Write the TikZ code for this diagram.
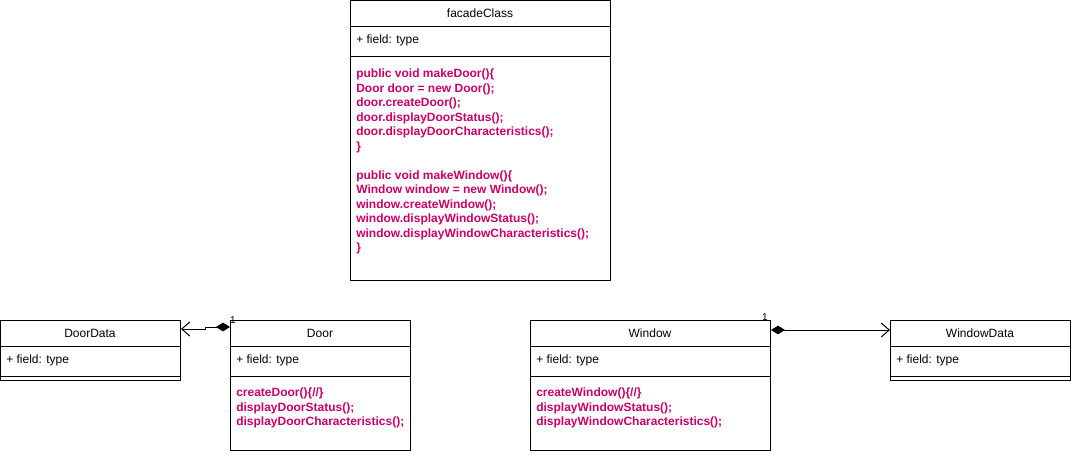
\documentclass[tikz,border=0pt]{standalone}
\usepackage{fontspec}
\setmainfont{Liberation Sans}
\usetikzlibrary{arrows.meta,calc}
\definecolor{codepink}{HTML}{CC0066}
\begin{document}
\begin{tikzpicture}[x=0.75pt,y=-0.75pt,
  font=\fontsize{9}{10.875}\selectfont,
  box/.style 2 args={draw, line width=0.75pt, rectangle, anchor=north west,
    inner sep=0pt, minimum width=#1*0.75pt, minimum height=#2*0.75pt},
  title/.style={inner sep=0pt, anchor=center},
  attr/.style={inner sep=0pt, anchor=west},
  code/.style={inner sep=0pt, anchor=north west, align=left, text=codepink,
    font=\fontsize{9}{10.875}\selectfont\bfseries},
  sep/.style={line width=0.75pt},
  mult/.style={inner sep=0pt, anchor=center, font=\fontsize{7.5}{9}\selectfont},
  link/.style={line width=0.75pt,
    {Diamond[length=10.5pt,width=6.5pt]}-{Straight Barb[length=6pt,width=10.5pt,line width=0.75pt]}}
]
\useasboundingbox (0,0) rectangle (1071,454);

% facade class
\node[box={260}{280}] (facade) at (350,0) {};
\draw[sep] (350,26) -- (610,26);
\draw[sep] (350,56) -- (610,56);
\node[title] (facadeT) at (480,13) {facadeClass};
\node[attr] (facadeA) at (356,40) {+ field: type};
\node[code] (facadeM) at (356,69) {public void makeDoor()\{\\
Door door = new Door();\\
door.createDoor();\\
door.displayDoorStatus();\\
door.displayDoorCharacteristics();\\
\}\\[10.875pt]
public void makeWindow()\{\\
Window window = new Window();\\
window.createWindow();\\
window.displayWindowStatus();\\
window.displayWindowCharacteristics();\\
\}};

% DoorData
\node[box={180}{60}] (doordata) at (0,320) {};
\draw[sep] (0,346) -- (180,346);
\draw[sep] (0,376) -- (180,376);
\node[title] (doordataT) at (90,333) {DoorData};
\node[attr] (doordataA) at (6,360) {+ field: type};

% Door
\node[box={180}{130}] (door) at (230,320) {};
\draw[sep] (230,346) -- (410,346);
\draw[sep] (230,376) -- (410,376);
\node[title] (doorT) at (320,333) {Door};
\node[attr] (doorA) at (236,360) {+ field: type};
\node[code] (doorM) at (236,388) {createDoor()\{//\}\\
displayDoorStatus();\\
displayDoorCharacteristics();};

% Window
\node[box={240}{130}] (window) at (530,320) {};
\draw[sep] (530,346) -- (770,346);
\draw[sep] (530,376) -- (770,376);
\node[title] (windowT) at (650,333) {Window};
\node[attr] (windowA) at (536,360) {+ field: type};
\node[code] (windowM) at (536,388) {createWindow()\{//\}\\
displayWindowStatus();\\
displayWindowCharacteristics();};

% WindowData
\node[box={180}{60}] (windowdata) at (890,320) {};
\draw[sep] (890,346) -- (1070,346);
\draw[sep] (890,376) -- (1070,376);
\node[title] (windowdataT) at (980,333) {WindowData};
\node[attr] (windowdataA) at (896,360) {+ field: type};

% composition links
\coordinate (dS) at ($(door.north west)+(0,7)$);
\coordinate (dB1) at (205,327);
\coordinate (dB2) at (205,329);
\coordinate (dE) at ($(doordata.north east)+(0,9)$);
\draw[link] (dS) -- (dB1) -- (dB2) -- (dE);
\node[mult] (dM) at (233,320) {1};

\coordinate (wS) at ($(window.north east)+(0,10)$);
\coordinate (wE) at ($(windowdata.north west)+(0,10)$);
\draw[link] (wS) -- (wE);
\node[mult] (wM) at (765,317) {1};
\end{tikzpicture}
\end{document}
